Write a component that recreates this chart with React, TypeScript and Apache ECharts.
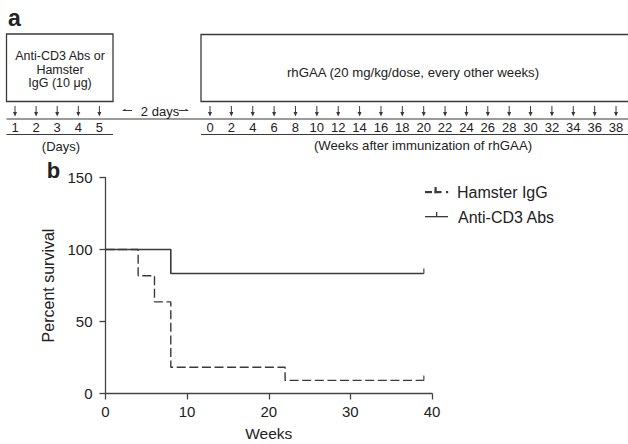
import React, { useEffect, useRef } from 'react';
import * as echarts from 'echarts';

// ---- data ----
const dayLabels = ['1', '2', '3', '4', '5'];
const weekLabels = ['0', '2', '4', '6', '8', '10', '12', '14', '16', '18', '20', '22', '24', '26', '28', '30', '32', '34', '36', '38'];
const seriesNames = ['Hamster IgG', 'Anti-CD3 Abs'];
const hamsterWeeks = [0, 4, 6, 8, 22, 39];
const hamsterSurvival = [100, 81.8, 63.6, 18.2, 9.1, 9.1];
const antiWeeks = [0, 8, 39];
const antiSurvival = [100, 83.3, 83.3];
const boxLeftLines = ['Anti-CD3 Abs or', 'Hamster', 'IgG (10 \u03bcg)'];
const boxRightText = 'rhGAA (20 mg/kg/dose, every other weeks)';

const FONT = '"Liberation Sans", Arial, Helvetica, sans-serif';
const INK = '#222';
const LINE = '#3a3a3a';

function txt(text: string, x: number, y: number, size: number, weight = 'normal', align = 'center') {
  return {
    type: 'text',
    x,
    y,
    silent: true,
    style: {
      text,
      fill: INK,
      font: `${weight} ${size}px ${FONT}`,
      textAlign: align,
      textVerticalAlign: 'middle',
      align,
      verticalAlign: 'middle',
    },
  };
}

function hline(x1: number, x2: number, y: number, w = 1.2) {
  return { type: 'line', silent: true, shape: { x1, y1: y, x2, y2: y }, style: { stroke: LINE, lineWidth: w } };
}

function downArrow(x: number) {
  return [
    { type: 'line', silent: true, shape: { x1: x, y1: 106, x2: x, y2: 115 }, style: { stroke: LINE, lineWidth: 1 } },
    { type: 'polygon', silent: true, shape: { points: [[x - 2, 112], [x + 2, 112], [x, 116.5]] }, style: { fill: LINE } },
  ];
}

function buildGraphics() {
  const els: any[] = [];
  // panel labels
  els.push(txt('a', 14.5, 18, 23, 'bold'));
  els.push(txt('b', 53.5, 170.5, 22, 'bold'));

  // boxes
  els.push({ type: 'rect', silent: true, shape: { x: 6.5, y: 34, width: 106.5, height: 67.5 }, style: { fill: 'none', stroke: LINE, lineWidth: 1.3 } });
  els.push({ type: 'rect', silent: true, shape: { x: 201, y: 34.5, width: 440, height: 67 }, style: { fill: 'none', stroke: LINE, lineWidth: 1.3 } });
  boxLeftLines.forEach((t, i) => els.push(txt(t, 60, 56 + i * 13.6, 12.5)));
  els.push(txt(boxRightText, 413, 72, 13.2));

  // timeline lines
  els.push(hline(6.5, 628, 119));
  els.push(hline(6.5, 113, 134.5));
  els.push(hline(201, 628, 134.5));

  // days
  dayLabels.forEach((d, i) => {
    const x = 15 + i * 21.1;
    els.push(...downArrow(x));
    els.push(txt(d, x, 127.5, 13));
  });
  els.push(txt('(Days)', 61, 146.5, 13));

  // weeks
  weekLabels.forEach((w, i) => {
    const x = 210 + i * 21.37;
    els.push(...downArrow(x));
    els.push(txt(w, x, 127.5, 13));
  });
  els.push(txt('(Weeks after immunization of rhGAA)', 423, 145.5, 13.2));

  // 2 days
  els.push(txt('2 days', 160, 111.5, 13));
  els.push({ type: 'line', silent: true, shape: { x1: 123, y1: 110.5, x2: 132, y2: 110.5 }, style: { stroke: LINE, lineWidth: 1 } });
  els.push({ type: 'polygon', silent: true, shape: { points: [[122, 110.5], [125.5, 108.8], [125.5, 110.8]] }, style: { fill: LINE } });
  els.push({ type: 'line', silent: true, shape: { x1: 179, y1: 110.5, x2: 188, y2: 110.5 }, style: { stroke: LINE, lineWidth: 1 } });
  els.push({ type: 'polygon', silent: true, shape: { points: [[189, 110.5], [185.5, 108.8], [185.5, 110.8]] }, style: { fill: LINE } });

  // legend
  const r = (x: number, y: number, w: number, h: number) => ({ type: 'rect', silent: true, shape: { x, y, width: w, height: h }, style: { fill: LINE } });
  els.push(r(425, 191, 7, 2.2), r(434.5, 187, 2.2, 6.2), r(434.5, 191, 7, 2.2), r(446, 191, 2.2, 2.2));
  els.push(txt(seriesNames[0], 457, 192, 16, 'normal', 'left'));
  els.push(r(425, 216, 23, 1.3), r(436, 212, 1.3, 4.5));
  els.push(txt(seriesNames[1], 458, 217, 16, 'normal', 'left'));
  return els;
}

export default function App() {
  const ref = useRef<HTMLDivElement>(null);
  useEffect(() => {
    if (!ref.current) return;
    const chart = echarts.init(ref.current, null, { renderer: 'svg' });
    const axisLineStyle = { color: '#444', width: 1.3 };
    const hamsterData = hamsterWeeks.map((w, i) => [w, hamsterSurvival[i]]);
    const antiData = antiWeeks.map((w, i) => [w, antiSurvival[i]]);
    const censor = [hamsterData[hamsterData.length - 1], antiData[antiData.length - 1]];
    chart.setOption({
      animation: false,
      backgroundColor: '#fff',
      textStyle: { fontFamily: FONT },
      grid: { left: 105.5, right: 196, top: 177.5, bottom: 50.5, containLabel: false },
      xAxis: {
        type: 'value',
        min: 0,
        max: 40,
        interval: 10,
        axisLine: { show: true, onZero: false, lineStyle: axisLineStyle },
        axisTick: { show: true, length: 6, lineStyle: axisLineStyle },
        axisLabel: { fontSize: 15, color: INK, margin: 10, fontFamily: FONT },
        splitLine: { show: false },
        name: 'Weeks',
        nameLocation: 'middle',
        nameGap: 32,
        nameTextStyle: { fontSize: 15.5, color: INK, fontFamily: FONT },
      },
      yAxis: {
        type: 'value',
        min: 0,
        max: 150,
        interval: 50,
        axisLine: { show: true, onZero: false, lineStyle: axisLineStyle },
        axisTick: { show: true, length: 6, lineStyle: axisLineStyle },
        axisLabel: { fontSize: 15, color: INK, margin: 13, fontFamily: FONT },
        splitLine: { show: false },
        name: 'Percent survival',
        nameLocation: 'middle',
        nameGap: 43,
        nameTextStyle: { fontSize: 16, color: INK, fontFamily: FONT },
      },
      series: [
        {
          name: seriesNames[0],
          type: 'line',
          step: 'end',
          data: hamsterData,
          symbol: 'none',
          silent: true,
          z: 2,
          lineStyle: { color: LINE, width: 1.4, type: [9, 3.6] },
        },
        {
          name: seriesNames[1],
          type: 'line',
          step: 'end',
          data: antiData,
          symbol: 'none',
          silent: true,
          z: 3,
          lineStyle: { color: LINE, width: 1.6, type: 'solid' },
        },
        {
          name: 'censored',
          type: 'scatter',
          data: censor,
          symbol: 'rect',
          symbolSize: [1.4, 5],
          symbolOffset: [0, -2.5],
          silent: true,
          z: 4,
          itemStyle: { color: LINE },
        },
      ],
      graphic: buildGraphics(),
    });
    return () => chart.dispose();
  }, []);
  return <div ref={ref} style={{ width: 628, height: 444, position: 'absolute', left: 0, top: 0 }} />;
}
